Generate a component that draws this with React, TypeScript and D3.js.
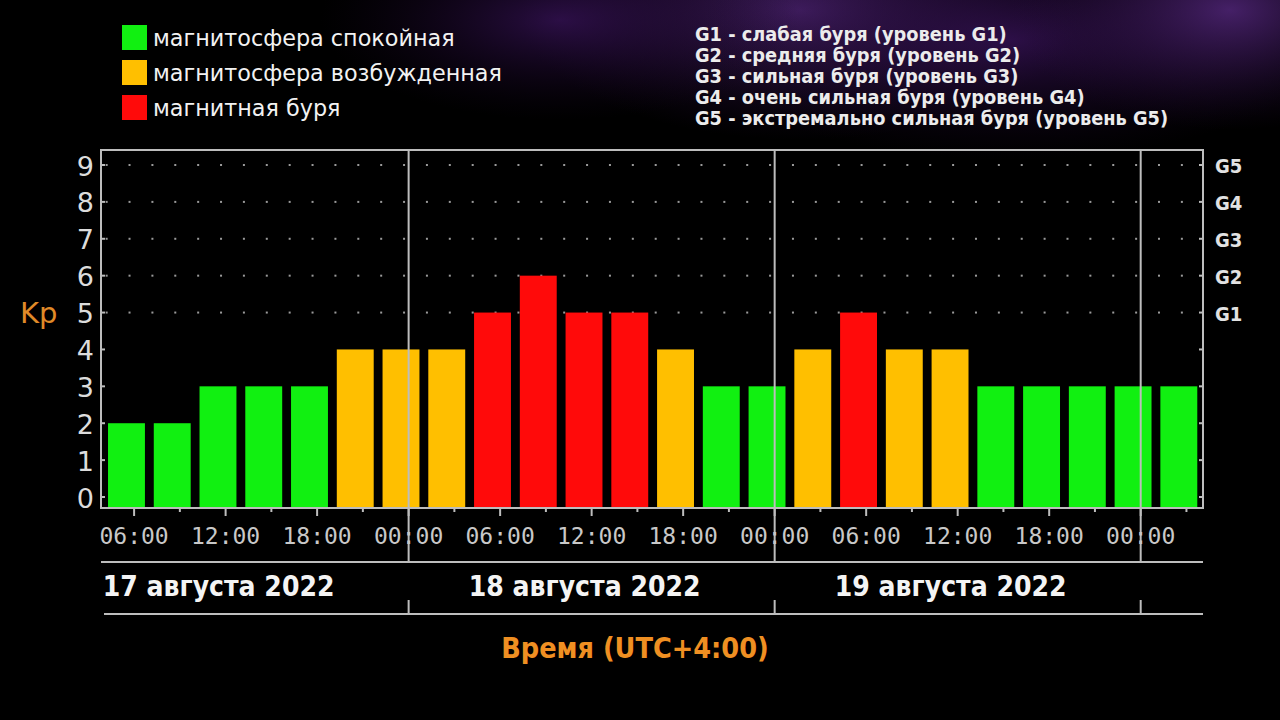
import React from "react";
import * as d3 from "d3";

// ---------- data ----------
const barStartHours = [4, 7, 10, 13, 16, 19, 22, 25, 28, 31, 34, 37, 40, 43, 46, 49, 52, 55, 58, 61, 64, 67, 70, 73];
const kpValues = [2, 2, 3, 3, 3, 4, 4, 4, 5, 6, 5, 5, 4, 3, 3, 4, 5, 4, 4, 3, 3, 3, 3, 3];
const majorTickHours = [6, 12, 18, 24, 30, 36, 42, 48, 54, 60, 66, 72];
const majorTickLabels = ["06:00", "12:00", "18:00", "00:00", "06:00", "12:00", "18:00", "00:00", "06:00", "12:00", "18:00", "00:00"];
const minorTickHours = [9, 15, 21, 27, 33, 39, 45, 51, 57, 63, 69, 75];
const dayBoundaryHours = [24, 48, 72];
const dayCenterHours = [12, 36, 60];
const dayLabels = ["17 августа 2022", "18 августа 2022", "19 августа 2022"];
const kpTicks = [0, 1, 2, 3, 4, 5, 6, 7, 8, 9];
const gLevels = [5, 6, 7, 8, 9];
const gLabels = ["G1", "G2", "G3", "G4", "G5"];
const legendLabels = ["магнитосфера спокойная", "магнитосфера возбужденная", "магнитная буря"];
const legendColors = ["#11f011", "#ffbf00", "#ff0a0a"];
const gLegend = [
  "G1 - слабая буря (уровень G1)",
  "G2 - средняя буря (уровень G2)",
  "G3 - сильная буря (уровень G3)",
  "G4 - очень сильная буря (уровень G4)",
  "G5 - экстремально сильная буря (уровень G5)",
];

// ---------- layout ----------
const W = 1280;
const H = 720;
const frame = { left: 101, right: 1203, top: 150, bottom: 508 };
const axisColor = "#bdbdbd";

export default function App() {
  const x = d3.scaleLinear().domain([4, 76]).range([103.6, 1201.7]);
  const y = d3.scaleLinear().domain([0, 9]).range([497, 165]);
  const color = d3.scaleThreshold<number, string>().domain([4, 5]).range(legendColors);

  const dotHours = d3.range(4.2, 76.1, 1.5);

  return (
    <div style={{ position: "fixed", left: 0, top: 0, width: W, height: H, background: "#000" }}>
      <svg width={W} height={H} style={{ display: "block" }}>
        <defs>
          <radialGradient id="g1" cx="0.5" cy="0.5" r="0.5">
            <stop offset="0" stopColor="#5a2a86" stopOpacity="0.75" />
            <stop offset="1" stopColor="#2a0c40" stopOpacity="0" />
          </radialGradient>
          <radialGradient id="g2" cx="0.5" cy="0.5" r="0.5">
            <stop offset="0" stopColor="#3c1460" stopOpacity="0.7" />
            <stop offset="1" stopColor="#1a0628" stopOpacity="0" />
          </radialGradient>
        </defs>
        <rect x={0} y={0} width={W} height={H} fill="#000" />
        <ellipse cx={800} cy={10} rx={280} ry={130} fill="url(#g1)" />
        <ellipse cx={1010} cy={40} rx={320} ry={120} fill="url(#g2)" />
        <ellipse cx={1230} cy={10} rx={220} ry={120} fill="url(#g1)" />
        <ellipse cx={560} cy={20} rx={240} ry={100} fill="url(#g2)" />

        {/* legend left */}
        {legendLabels.map((t, i) => (
          <g key={t}>
            <rect x={122} y={25 + i * 35} width={25} height={25} fill={legendColors[i]} />
            <text x={153} y={38 + i * 35} dominantBaseline="central" fill="#f2f2f2"
              style={{ fontFamily: "DejaVu Sans", fontSize: 22.3 }}>{t}</text>
          </g>
        ))}

        {/* legend right */}
        {gLegend.map((t, i) => (
          <text key={t} x={695} y={41 + i * 21} fill="#ececec"
            style={{ fontFamily: "DejaVu Sans Condensed", fontWeight: "bold", fontSize: 19.8 }}>{t}</text>
        ))}

        {/* dotted grid */}
        {gLevels.map((lv) => (
          <g key={"d" + lv}>
            {dotHours.map((h) => (
              <rect key={h} x={x(h) - 1} y={y(lv) - 1} width={2} height={2} fill="#9a9a9a" />
            ))}
          </g>
        ))}

        {/* bars */}
        {kpValues.map((v, i) => (
          <rect key={i} x={x(barStartHours[i] + 0.29)} y={y(v)}
            width={x(barStartHours[i] + 2.71) - x(barStartHours[i] + 0.29)}
            height={frame.bottom - y(v)} fill={color(v)} />
        ))}

        {/* day boundary lines */}
        {dayBoundaryHours.map((h) => (
          <g key={"b" + h}>
            <line x1={x(h)} x2={x(h)} y1={frame.top} y2={562} stroke={axisColor} strokeWidth={2} />
            <line x1={x(h)} x2={x(h)} y1={600} y2={614} stroke={axisColor} strokeWidth={2} />
          </g>
        ))}

        {/* frame */}
        <rect x={frame.left} y={frame.top} width={frame.right - frame.left} height={frame.bottom - frame.top}
          fill="none" stroke={axisColor} strokeWidth={2} />

        {/* y ticks */}
        {kpTicks.map((v) => (
          <g key={"y" + v}>
            <line x1={frame.left} x2={frame.left + 4} y1={y(v)} y2={y(v)} stroke={axisColor} strokeWidth={2} />
            <line x1={frame.right - 4} x2={frame.right} y1={y(v)} y2={y(v)} stroke={axisColor} strokeWidth={2} />
            <text x={94} y={y(v) + 1} textAnchor="end" dominantBaseline="central" fill="#dcdcdc"
              style={{ fontFamily: "DejaVu Sans", fontSize: 27 }}>{v}</text>
          </g>
        ))}
        {gLevels.map((lv, i) => (
          <text key={"g" + lv} x={1215} y={y(lv) + 1} dominantBaseline="central" fill="#e2e2e2"
            style={{ fontFamily: "DejaVu Sans Condensed", fontWeight: "bold", fontSize: 20 }}>{gLabels[i]}</text>
        ))}
        <text x={20} y={323} fill="#e08a28" style={{ fontFamily: "DejaVu Sans", fontSize: 29 }}>Kp</text>

        {/* x ticks */}
        {majorTickHours.map((h, i) => (
          <g key={"mt" + h}>
            <line x1={x(h)} x2={x(h)} y1={frame.bottom} y2={frame.bottom + 8} stroke={axisColor} strokeWidth={2} />
            <text x={x(h)} y={544} textAnchor="middle" fill="#c8c8c8"
              style={{ fontFamily: "DejaVu Sans Mono", fontSize: 23 }}>{majorTickLabels[i]}</text>
          </g>
        ))}
        {minorTickHours.map((h) => (
          <line key={"mn" + h} x1={x(h)} x2={x(h)} y1={frame.bottom} y2={frame.bottom + 4} stroke={axisColor} strokeWidth={2} />
        ))}

        {/* date rows */}
        <line x1={101} x2={1203} y1={562} y2={562} stroke={axisColor} strokeWidth={2} />
        <line x1={104} x2={1203} y1={614} y2={614} stroke={axisColor} strokeWidth={2} />
        {dayLabels.map((t, i) => (
          <text key={t} x={x(dayCenterHours[i]) - 7} y={596} textAnchor="middle" fill="#f4f4f4"
            style={{ fontFamily: "DejaVu Sans Condensed", fontWeight: "bold", fontSize: 28 }}>{t}</text>
        ))}
        <text x={635} y={658} textAnchor="middle" fill="#ef8f22"
          style={{ fontFamily: "DejaVu Sans Condensed", fontWeight: "bold", fontSize: 28.5 }}>Время (UTC+4:00)</text>
      </svg>
    </div>
  );
}
